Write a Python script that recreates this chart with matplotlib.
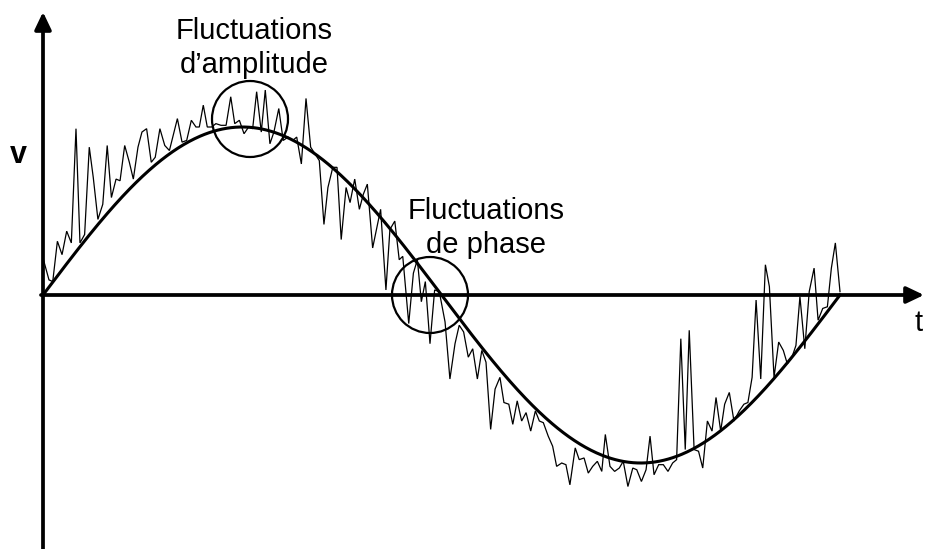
import numpy as np
import matplotlib
matplotlib.use("Agg")
import matplotlib.pyplot as plt
from matplotlib.patches import Ellipse

plt.rcParams['font.family'] = ['Liberation Sans', 'DejaVu Sans']

# ---- data (phase in degrees, voltage in units of the ideal amplitude) ----
noisy_t = [0.0, 2.7, 4.4, 6.5, 8.6, 10.7, 12.8, 14.9, 16.7, 18.8,
           20.9, 22.7, 24.8, 27.0, 29.0, 30.9, 33.0, 34.8, 36.9, 39.0,
           40.8, 42.9, 44.7, 46.8, 48.9, 50.7, 52.8, 55.0, 57.1, 60.7,
           62.8, 64.9, 67.0, 69.1, 70.6, 72.4, 74.2, 76.2, 78.1, 80.4,
           82.7, 84.8, 86.6, 88.7, 90.8, 92.9, 94.7, 96.5, 98.6, 100.4,
           102.5, 104.3, 106.5, 108.5, 110.7, 112.8, 114.6, 116.7, 118.8, 120.9,
           124.8, 126.9, 128.7, 130.9, 132.8, 134.7, 136.9, 138.7, 140.8, 142.9,
           144.7, 146.5, 148.9, 152.5, 154.9, 156.7, 158.9, 160.9, 162.5, 165.2,
           167.3, 169.1, 170.9, 172.7, 174.8, 176.9, 179.0, 181.6, 183.8, 186.1,
           188.0, 190.0, 192.1, 194.1, 196.2, 198.2, 200.1, 202.2, 204.2, 206.4,
           208.2, 210.4, 212.2, 214.2, 216.2, 218.2, 220.3, 222.4, 224.2, 226.0,
           228.2, 230.2, 232.0, 234.3, 236.2, 238.0, 240.4, 242.2, 244.4, 246.3,
           248.3, 250.4, 252.4, 254.0, 256.1, 258.2, 260.3, 262.1, 264.2, 266.4,
           268.2, 270.3, 272.4, 274.2, 276.0, 278.1, 280.2, 282.3, 284.4, 286.2,
           288.1, 290.1, 291.9, 294.1, 296.1, 298.0, 300.1, 302.2, 304.0, 306.1,
           307.9, 310.0, 312.1, 314.5, 316.6, 318.4, 320.3, 322.1, 324.2, 326.3,
           328.1, 330.2, 332.3, 334.4, 336.2, 338.3, 340.1, 341.9, 344.1, 346.1,
           348.3, 350.1, 352.2, 354.3, 356.1, 357.9, 360.0]
noisy_v = [0.22, 0.09, 0.08, 0.32, 0.24, 0.38, 0.31, 0.99, 0.31, 0.36,
           0.88, 0.70, 0.45, 0.54, 0.89, 0.58, 0.69, 0.68, 0.89, 0.79,
           0.69, 0.88, 0.97, 0.99, 0.79, 0.82, 0.99, 0.89, 0.86, 1.05,
           0.91, 0.92, 1.04, 1.00, 1.00, 1.13, 1.00, 1.00, 1.02, 1.01,
           1.01, 1.18, 1.02, 1.04, 0.96, 1.00, 0.99, 1.21, 0.97, 1.22,
           0.90, 0.97, 1.11, 0.92, 0.94, 0.92, 0.94, 0.78, 1.17, 0.88,
           0.80, 0.42, 0.64, 0.76, 0.76, 0.33, 0.64, 0.55, 0.69, 0.51,
           0.60, 0.66, 0.28, 0.51, 0.03, 0.39, 0.44, 0.21, 0.23, -0.17,
           0.13, 0.21, -0.04, 0.08, -0.29, 0.03, 0.02, -0.16, -0.50, -0.29,
           -0.18, -0.22, -0.37, -0.32, -0.50, -0.33, -0.40, -0.80, -0.56, -0.49,
           -0.64, -0.65, -0.77, -0.63, -0.75, -0.70, -0.81, -0.69, -0.75, -0.76,
           -0.84, -0.90, -1.02, -1.00, -1.01, -1.13, -0.91, -0.98, -0.97, -1.06,
           -1.02, -0.99, -1.05, -0.83, -1.02, -1.05, -1.03, -0.99, -1.14, -1.03,
           -1.04, -1.11, -1.04, -0.84, -1.07, -1.01, -1.01, -1.05, -1.00, -0.98,
           -0.26, -0.92, -0.21, -0.92, -0.93, -1.03, -0.75, -0.81, -0.61, -0.81,
           -0.65, -0.58, -0.75, -0.69, -0.65, -0.64, -0.49, -0.03, -0.50, 0.18,
           0.05, -0.49, -0.28, -0.33, -0.41, -0.37, -0.30, -0.01, -0.32, 0.02,
           0.16, -0.15, -0.08, -0.07, 0.16, 0.31, 0.02]

label_amp = ["Fluctuations", "d\u2019amplitude"]
label_phase = ["Fluctuations", "de phase"]
label_v = "v"
label_t = "t"

# ideal sine (one period)
ideal_t = np.linspace(0, 360, 721)
ideal_v = np.sin(np.radians(ideal_t))

# ---- layout: map data to the canvas ----
W, H = 925, 549
X0, PER = 43, 797      # pixel of phase 0, pixels per period
Y0, AMP = 295, 168     # pixel of v=0, pixels per unit amplitude
sx = 360.0 / PER


def dx(px):
    return (px - X0) * sx


def dy(py):
    return (Y0 - py) / AMP


fig = plt.figure(figsize=(W / 100, H / 100), dpi=100)
ax = fig.add_axes([0, 0, 1, 1])
ax.set_xlim(dx(0), dx(W))
ax.set_ylim(dy(H), dy(0))
ax.axis('off')

ax.plot(noisy_t, noisy_v, color='black', lw=0.9, zorder=2, solid_joinstyle='miter')
ax.plot(ideal_t, ideal_v, color='black', lw=2.2, zorder=3)

arrow_kw = dict(arrowstyle='-|>,head_length=1.05,head_width=0.5',
                lw=2.7, color='black', shrinkA=0, shrinkB=0)
ax.annotate('', xy=(0, dy(12)), xytext=(0, dy(H + 5)),
            arrowprops=arrow_kw, zorder=4, annotation_clip=False)
ax.annotate('', xy=(dx(924), 0), xytext=(dx(41), 0),
            arrowprops=arrow_kw, zorder=4, annotation_clip=False)

# circles (true circles on screen)
r = 38
for cx, cy in [(250, 119), (430, 295)]:
    ax.add_patch(Ellipse((dx(cx), dy(cy)), 2 * r * sx, 2 * r / AMP,
                         fill=False, lw=1.6, color='black', zorder=5))

fs = 21
ax.text(dx(254), dy(39), label_amp[0], ha='center', va='baseline', fontsize=fs)
ax.text(dx(254), dy(73), label_amp[1], ha='center', va='baseline', fontsize=fs)
ax.text(dx(486), dy(219), label_phase[0], ha='center', va='baseline', fontsize=fs)
ax.text(dx(486), dy(253), label_phase[1], ha='center', va='baseline', fontsize=fs)
ax.text(dx(18), dy(163), label_v, ha='center', va='baseline', fontsize=22,
        fontweight='bold')
ax.text(dx(923), dy(331), label_t, ha='right', va='baseline', fontsize=fs)

fig.savefig('out.png', dpi=100)
